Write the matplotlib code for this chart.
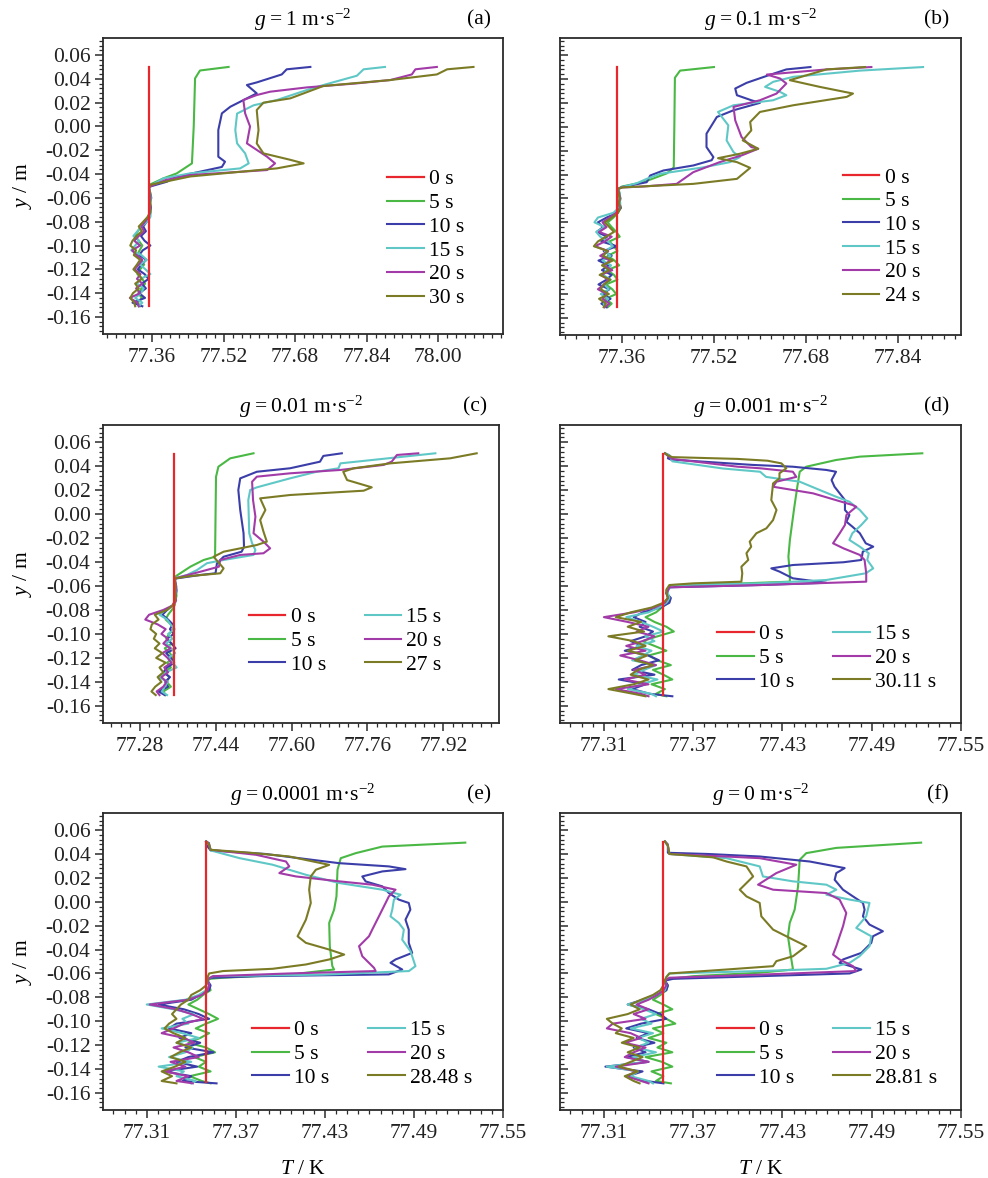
import matplotlib
matplotlib.use("Agg")
import matplotlib.pyplot as plt
from matplotlib.ticker import AutoMinorLocator, FormatStrFormatter
import numpy as np

plt.rcParams['font.family'] = ['Liberation Serif', 'DejaVu Serif']
plt.rcParams['mathtext.fontset'] = 'custom'
plt.rcParams['mathtext.rm'] = 'Liberation Serif'
plt.rcParams['mathtext.it'] = 'Liberation Serif:italic'
plt.rcParams['mathtext.bf'] = 'Liberation Serif:bold'
plt.rcParams['axes.unicode_minus'] = True

# ---------------- data ----------------
colors = ['#e8262d', '#4ab844', '#3b3ea8', '#5fc8c6', '#a23ba8', '#7c7b25']

titles = ['1', '0.1', '0.01', '0.001', '0.0001', '0']
tags = ['(a)', '(b)', '(c)', '(d)', '(e)', '(f)']
a_labels = ['0 s', '5 s', '10 s', '15 s', '20 s', '30 s']
b_labels = ['0 s', '5 s', '10 s', '15 s', '20 s', '24 s']
c_labels = ['0 s', '5 s', '10 s', '15 s', '20 s', '27 s']
d_labels = ['0 s', '5 s', '10 s', '15 s', '20 s', '30.11 s']
e_labels = ['0 s', '5 s', '10 s', '15 s', '20 s', '28.48 s']
f_labels = ['0 s', '5 s', '10 s', '15 s', '20 s', '28.81 s']

xticks_abc = {'a': [77.36, 77.52, 77.68, 77.84, 78.00],
              'b': [77.36, 77.52, 77.68, 77.84],
              'c': [77.28, 77.44, 77.60, 77.76, 77.92]}
xticks_def = [77.31, 77.37, 77.43, 77.49, 77.55]
yticks = [0.06, 0.04, 0.02, 0.00, -0.02, -0.04, -0.06, -0.08, -0.10, -0.12, -0.14, -0.16]

red_y = [0.050, -0.151]
T0_abc = 77.352
T0_def = 77.350

# noise-region y grids
grid_ab = [-0.052, -0.056, -0.060, -0.064, -0.068, -0.072, -0.076, -0.080, -0.084, -0.088,
           -0.092, -0.096, -0.100, -0.104, -0.108, -0.112, -0.116, -0.120, -0.124, -0.128,
           -0.132, -0.136, -0.140, -0.144, -0.148, -0.151]
grid_c = grid_ab[1:]
grid_def = [-0.066, -0.070, -0.074, -0.078, -0.082, -0.086, -0.090, -0.094, -0.098, -0.102,
            -0.106, -0.110, -0.114, -0.118, -0.122, -0.126, -0.130, -0.134, -0.138, -0.142,
            -0.146, -0.150, -0.152]

# ---- panel (a) g = 1 ----
a5_T = [77.531, 77.467, 77.456, 77.453, 77.449, 77.415, 77.385, 77.354]
a5_y = [0.050, 0.047, 0.0404, 0.000, -0.031, -0.0394, -0.0436, -0.049]
a10_T = [77.714, 77.661, 77.650, 77.594, 77.572, 77.594, 77.535, 77.516, 77.508, 77.508, 77.523, 77.516, 77.415, 77.393, 77.354]
a10_y = [0.050, 0.048, 0.0437, 0.037, 0.0348, 0.0278, 0.0166, 0.011, -0.003, -0.0254, -0.0296, -0.034, -0.0422, -0.0464, -0.0506]
a15_T = [77.881, 77.833, 77.818, 77.743, 77.706, 77.639, 77.587, 77.550, 77.546, 77.550, 77.568, 77.576, 77.557, 77.445, 77.385, 77.354]
a15_y = [0.050, 0.048, 0.0426, 0.0348, 0.0306, 0.0222, 0.0178, 0.0108, -0.003, -0.0142, -0.0226, -0.031, -0.0352, -0.0394, -0.0436, -0.0506]
a20_T = [77.997, 77.949, 77.941, 77.893, 77.818, 77.706, 77.624, 77.594, 77.564, 77.568, 77.579, 77.572, 77.617, 77.635, 77.617, 77.445, 77.390, 77.354]
a20_y = [0.050, 0.048, 0.0437, 0.039, 0.0362, 0.0328, 0.0292, 0.0264, 0.0222, 0.011, 0.000, -0.0142, -0.0254, -0.031, -0.0366, -0.0408, -0.045, -0.0506]
a30_T = [78.079, 78.020, 77.997, 77.893, 77.743, 77.699, 77.669, 77.609, 77.594, 77.598, 77.594, 77.609, 77.669, 77.699, 77.639, 77.445, 77.356]
a30_y = [0.050, 0.048, 0.0437, 0.039, 0.034, 0.0278, 0.0236, 0.020, 0.0138, -0.003, -0.0142, -0.0226, -0.028, -0.031, -0.0352, -0.042, -0.049]
a5_n = [77.353, 77.355, 77.356, 77.354, 77.356, 77.355, 77.350, 77.342, 77.335, 77.328, 77.322, 77.330, 77.338, 77.332, 77.326, 77.335, 77.342, 77.333, 77.327, 77.338, 77.344, 77.336, 77.329, 77.337, 77.328, 77.333]
a10_n = [77.353, 77.356, 77.358, 77.355, 77.357, 77.356, 77.353, 77.348, 77.340, 77.346, 77.335, 77.343, 77.356, 77.339, 77.331, 77.347, 77.336, 77.328, 77.343, 77.352, 77.337, 77.346, 77.331, 77.344, 77.316, 77.338]
a15_n = [77.354, 77.355, 77.357, 77.356, 77.355, 77.357, 77.356, 77.349, 77.336, 77.327, 77.318, 77.331, 77.322, 77.313, 77.336, 77.348, 77.333, 77.345, 77.356, 77.334, 77.326, 77.341, 77.335, 77.322, 77.338, 77.330]
a20_n = [77.353, 77.354, 77.356, 77.355, 77.357, 77.355, 77.352, 77.344, 77.336, 77.342, 77.330, 77.320, 77.333, 77.315, 77.325, 77.338, 77.330, 77.321, 77.334, 77.326, 77.338, 77.324, 77.333, 77.310, 77.327, 77.330]
a30_n = [77.353, 77.355, 77.354, 77.356, 77.355, 77.356, 77.350, 77.340, 77.330, 77.337, 77.325, 77.316, 77.311, 77.324, 77.319, 77.333, 77.326, 77.318, 77.329, 77.337, 77.322, 77.330, 77.317, 77.311, 77.320, 77.322]

# ---- panel (b) g = 0.1 ----
b5_T = [77.520, 77.461, 77.452, 77.451, 77.450, 77.438, 77.397, 77.360]
b5_y = [0.050, 0.047, 0.041, 0.000, -0.034, -0.039, -0.0464, -0.050]
b10_T = [77.688, 77.646, 77.612, 77.577, 77.557, 77.560, 77.585, 77.600, 77.554, 77.525, 77.507, 77.507, 77.519, 77.516, 77.484, 77.432, 77.409, 77.403, 77.360]
b10_y = [0.050, 0.048, 0.0426, 0.0368, 0.032, 0.0264, 0.0222, 0.020, 0.0138, 0.0082, -0.0058, -0.017, -0.0254, -0.028, -0.0324, -0.0366, -0.0408, -0.0464, -0.0505]
b15_T = [77.884, 77.774, 77.658, 77.623, 77.609, 77.635, 77.646, 77.623, 77.554, 77.527, 77.536, 77.545, 77.542, 77.554, 77.565, 77.548, 77.501, 77.426, 77.403, 77.386, 77.360]
b15_y = [0.050, 0.047, 0.0418, 0.0376, 0.0334, 0.0292, 0.0264, 0.0222, 0.018, 0.0124, 0.0068, 0.0012, -0.0114, -0.0212, -0.0254, -0.0296, -0.034, -0.0394, -0.0436, -0.0472, -0.0505]
b20_T = [77.794, 77.716, 77.612, 77.635, 77.646, 77.629, 77.600, 77.554, 77.557, 77.568, 77.585, 77.597, 77.568, 77.530, 77.484, 77.455, 77.397, 77.360]
b20_y = [0.050, 0.048, 0.0437, 0.0404, 0.0362, 0.0278, 0.0222, 0.0166, 0.0054, -0.0086, -0.017, -0.0184, -0.024, -0.0296, -0.038, -0.0478, -0.0500, -0.0508]
b24_T = [77.783, 77.716, 77.652, 77.704, 77.762, 77.751, 77.658, 77.600, 77.583, 77.585, 77.570, 77.597, 77.565, 77.527, 77.560, 77.583, 77.560, 77.484, 77.360]
b24_y = [0.050, 0.048, 0.039, 0.0334, 0.0278, 0.025, 0.018, 0.0124, 0.004, -0.003, -0.0114, -0.0184, -0.0226, -0.0263, -0.0296, -0.0344, -0.0436, -0.0478, -0.0508]
b5_n = [77.353, 77.356, 77.357, 77.355, 77.354, 77.353, 77.345, 77.335, 77.342, 77.350, 77.356, 77.338, 77.346, 77.352, 77.335, 77.347, 77.355, 77.334, 77.346, 77.352, 77.332, 77.343, 77.350, 77.331, 77.342, 77.335]
b10_n = [77.353, 77.355, 77.357, 77.356, 77.358, 77.352, 77.333, 77.318, 77.327, 77.316, 77.334, 77.324, 77.351, 77.328, 77.342, 77.319, 77.337, 77.325, 77.342, 77.333, 77.319, 77.338, 77.326, 77.340, 77.324, 77.333]
b15_n = [77.354, 77.356, 77.355, 77.357, 77.354, 77.345, 77.318, 77.312, 77.330, 77.315, 77.322, 77.336, 77.344, 77.330, 77.340, 77.326, 77.341, 77.333, 77.327, 77.340, 77.329, 77.337, 77.323, 77.336, 77.328, 77.330]
b20_n = [77.353, 77.355, 77.356, 77.354, 77.356, 77.350, 77.338, 77.326, 77.333, 77.320, 77.342, 77.330, 77.313, 77.336, 77.322, 77.339, 77.328, 77.343, 77.323, 77.336, 77.329, 77.318, 77.334, 77.326, 77.338, 77.330]
b24_n = [77.353, 77.354, 77.356, 77.355, 77.357, 77.353, 77.342, 77.330, 77.338, 77.346, 77.332, 77.318, 77.311, 77.335, 77.327, 77.344, 77.325, 77.338, 77.321, 77.340, 77.328, 77.323, 77.337, 77.320, 77.332, 77.328]

# ---- panel (c) g = 0.01 ----
c5_T = [77.520, 77.471, 77.446, 77.441, 77.439, 77.415, 77.387, 77.355, 77.353]
c5_y = [0.0507, 0.0465, 0.0395, 0.031, -0.0356, -0.0383, -0.0439, -0.0522, -0.054]
c10_T = [77.706, 77.667, 77.660, 77.597, 77.527, 77.492, 77.488, 77.492, 77.499, 77.500, 77.495, 77.457, 77.443, 77.440, 77.408, 77.359, 77.353]
c10_y = [0.0507, 0.0485, 0.0437, 0.0382, 0.0353, 0.0298, 0.0201, 0.0034, -0.016, -0.0272, -0.0314, -0.0356, -0.041, -0.0494, -0.0508, -0.0536, -0.0545]
c15_T = [77.903, 77.703, 77.699, 77.653, 77.597, 77.527, 77.513, 77.509, 77.511, 77.517, 77.524, 77.520, 77.457, 77.422, 77.401, 77.380, 77.355]
c15_y = [0.0507, 0.0423, 0.0382, 0.0353, 0.0298, 0.0223, 0.0201, 0.0117, -0.016, -0.0244, -0.030, -0.0341, -0.0383, -0.041, -0.0467, -0.0508, -0.0536]
c20_T = [77.867, 77.822, 77.811, 77.794, 77.703, 77.597, 77.527, 77.517, 77.519, 77.524, 77.520, 77.541, 77.555, 77.541, 77.492, 77.450, 77.447, 77.408, 77.355]
c20_y = [0.0507, 0.0493, 0.0437, 0.041, 0.0368, 0.034, 0.0312, 0.027, 0.0117, -0.0022, -0.016, -0.023, -0.0286, -0.0327, -0.0341, -0.0383, -0.0439, -0.0481, -0.0536]
c27_T = [77.990, 77.934, 77.808, 77.731, 77.709, 77.717, 77.769, 77.752, 77.597, 77.534, 77.545, 77.534, 77.541, 77.548, 77.527, 77.457, 77.436, 77.457, 77.450, 77.387, 77.355]
c27_y = [0.0507, 0.0465, 0.0423, 0.0382, 0.0353, 0.0284, 0.0223, 0.0195, 0.0159, 0.0131, 0.0034, -0.005, -0.0147, -0.023, -0.0258, -0.0314, -0.0356, -0.0453, -0.0494, -0.0517, -0.0536]
c5_n = [77.355, 77.356, 77.357, 77.355, 77.356, 77.354, 77.348, 77.340, 77.335, 77.346, 77.352, 77.342, 77.336, 77.348, 77.333, 77.344, 77.350, 77.338, 77.346, 77.332, 77.343, 77.337, 77.346, 77.330, 77.335]
c10_n = [77.354, 77.357, 77.358, 77.356, 77.355, 77.350, 77.338, 77.328, 77.340, 77.350, 77.344, 77.352, 77.338, 77.347, 77.356, 77.336, 77.346, 77.353, 77.338, 77.330, 77.344, 77.334, 77.340, 77.320, 77.333]
c15_n = [77.355, 77.356, 77.357, 77.358, 77.356, 77.352, 77.334, 77.322, 77.338, 77.345, 77.354, 77.340, 77.349, 77.336, 77.347, 77.355, 77.341, 77.350, 77.358, 77.336, 77.320, 77.340, 77.333, 77.327, 77.338]
c20_n = [77.355, 77.357, 77.356, 77.355, 77.357, 77.351, 77.330, 77.300, 77.292, 77.318, 77.335, 77.326, 77.340, 77.330, 77.345, 77.328, 77.339, 77.347, 77.332, 77.340, 77.326, 77.337, 77.330, 77.316, 77.322]
c27_n = [77.354, 77.356, 77.355, 77.357, 77.355, 77.350, 77.338, 77.312, 77.320, 77.306, 77.303, 77.315, 77.310, 77.322, 77.312, 77.328, 77.315, 77.335, 77.322, 77.330, 77.318, 77.326, 77.313, 77.305, 77.314]

# ---- panel (d) g = 0.001 ----
d5_T = [77.524, 77.482, 77.466, 77.446, 77.4416, 77.440, 77.438, 77.435, 77.434, 77.435, 77.435, 77.4035, 77.370, 77.354, 77.352]
d5_y = [0.0507, 0.0479, 0.0451, 0.0395, 0.0353, 0.0228, 0.0061, -0.0216, -0.0356, -0.0494, -0.0564, -0.0578, -0.0592, -0.0606, -0.0640]
d10_T = [77.351, 77.354, 77.353, 77.355, 77.410, 77.437, 77.4595, 77.466, 77.463, 77.465, 77.472, 77.472, 77.475, 77.473, 77.477, 77.482, 77.486, 77.491, 77.484, 77.483, 77.471, 77.437, 77.4225, 77.428, 77.437, 77.4595, 77.415, 77.354, 77.353]
d10_y = [0.0507, 0.049, 0.0465, 0.0455, 0.041, 0.0395, 0.0368, 0.0353, 0.0284, 0.0228, 0.0117, 0.0034, -0.0008, -0.0064, -0.0105, -0.016, -0.0244, -0.0272, -0.0314, -0.0383, -0.0402, -0.0425, -0.0453, -0.048, -0.0536, -0.0573, -0.0592, -0.0611, -0.0640]
d15_T = [77.351, 77.354, 77.356, 77.390, 77.415, 77.419, 77.4416, 77.455, 77.466, 77.475, 77.482, 77.487, 77.483, 77.477, 77.475, 77.482, 77.488, 77.487, 77.491, 77.486, 77.4595, 77.415, 77.357, 77.353]
d15_y = [0.0507, 0.049, 0.044, 0.038, 0.0353, 0.031, 0.027, 0.0201, 0.0145, 0.0103, 0.0034, -0.0036, -0.0091, -0.016, -0.0216, -0.0272, -0.0327, -0.0383, -0.0453, -0.0494, -0.055, -0.0578, -0.0592, -0.0630]
d20_T = [77.351, 77.353, 77.356, 77.400, 77.415, 77.437, 77.4393, 77.426, 77.4237, 77.4505, 77.477, 77.4796, 77.473, 77.472, 77.4685, 77.464, 77.471, 77.482, 77.4852, 77.4863, 77.4863, 77.415, 77.354, 77.353]
d20_y = [0.0507, 0.0485, 0.046, 0.0395, 0.0382, 0.0353, 0.031, 0.027, 0.0228, 0.0173, 0.0076, 0.0061, -0.0008, -0.0091, -0.016, -0.0244, -0.0286, -0.0341, -0.0383, -0.0494, -0.0564, -0.0592, -0.0611, -0.0640]
d30_T = [77.351, 77.353, 77.356, 77.400, 77.420, 77.4293, 77.4326, 77.428, 77.428, 77.4237, 77.4225, 77.426, 77.4237, 77.4192, 77.4125, 77.408, 77.409, 77.4058, 77.407, 77.4024, 77.403, 77.4024, 77.370, 77.354, 77.352]
d30_y = [0.0507, 0.049, 0.0475, 0.046, 0.0445, 0.0423, 0.0382, 0.034, 0.0298, 0.0256, 0.0117, 0.0034, -0.005, -0.0119, -0.016, -0.023, -0.0272, -0.0327, -0.0383, -0.0439, -0.0494, -0.0564, -0.0578, -0.0592, -0.0630]
d5_n = [77.352, 77.354, 77.353, 77.349, 77.345, 77.338, 77.344, 77.352, 77.357, 77.346, 77.336, 77.344, 77.352, 77.340, 77.346, 77.355, 77.343, 77.350, 77.356, 77.342, 77.351, 77.345, 77.352]
d10_n = [77.352, 77.355, 77.354, 77.348, 77.336, 77.330, 77.338, 77.334, 77.343, 77.338, 77.328, 77.336, 77.324, 77.340, 77.347, 77.335, 77.329, 77.344, 77.320, 77.338, 77.329, 77.341, 77.356]
d15_n = [77.353, 77.354, 77.352, 77.347, 77.340, 77.325, 77.335, 77.343, 77.350, 77.338, 77.344, 77.332, 77.342, 77.336, 77.329, 77.345, 77.337, 77.330, 77.346, 77.335, 77.326, 77.342, 77.345]
d20_n = [77.352, 77.353, 77.351, 77.344, 77.330, 77.310, 77.326, 77.340, 77.332, 77.344, 77.336, 77.325, 77.338, 77.321, 77.334, 77.345, 77.330, 77.338, 77.324, 77.340, 77.318, 77.335, 77.340]
d30_n = [77.352, 77.353, 77.350, 77.342, 77.328, 77.318, 77.335, 77.326, 77.337, 77.313, 77.330, 77.338, 77.326, 77.339, 77.331, 77.343, 77.333, 77.328, 77.340, 77.330, 77.313, 77.330, 77.338]

# ---- panel (e) g = 0.0001 ----
e5_T = [77.5246, 77.4687, 77.4508, 77.4407, 77.4385, 77.4378, 77.4362, 77.4329, 77.4333, 77.435, 77.4362, 77.406, 77.3613, 77.3523]
e5_y = [0.0495, 0.0462, 0.0407, 0.0365, 0.0268, 0.0045, -0.0066, -0.0177, -0.0372, -0.0539, -0.0567, -0.061, -0.0636, -0.0645]
e10_T = [77.350, 77.352, 77.351, 77.353, 77.390, 77.4396, 77.4731, 77.4843, 77.4687, 77.4552, 77.4575, 77.4687, 77.4731, 77.4798, 77.4865, 77.4876, 77.4843, 77.4865, 77.4865, 77.4888, 77.4776, 77.4742, 77.4821, 77.4731, 77.3837, 77.3535, 77.352]
e10_y = [0.0505, 0.049, 0.0462, 0.043, 0.040, 0.0323, 0.0296, 0.0273, 0.0254, 0.0212, 0.017, 0.0129, 0.0073, 0.0018, -0.001, -0.0066, -0.015, -0.0233, -0.0344, -0.0428, -0.0483, -0.0511, -0.0567, -0.0608, -0.0623, -0.0636, -0.0645]
e15_T = [77.350, 77.352, 77.353, 77.3725, 77.3948, 77.4172, 77.4396, 77.4687, 77.481, 77.4765, 77.4754, 77.4742, 77.4798, 77.4832, 77.4821, 77.4877, 77.491, 77.4866, 77.4284, 77.3546, 77.352]
e15_y = [0.0505, 0.048, 0.043, 0.0365, 0.031, 0.0226, 0.0157, 0.0101, 0.0059, 0.0018, -0.0066, -0.0122, -0.0177, -0.0233, -0.0317, -0.0414, -0.0539, -0.058, -0.061, -0.0623, -0.064]
e20_T = [77.350, 77.352, 77.353, 77.3837, 77.4038, 77.406, 77.3993, 77.4105, 77.4396, 77.4619, 77.4776, 77.4731, 77.4709, 77.4664, 77.4619, 77.4597, 77.453, 77.4552, 77.4631, 77.4642, 77.406, 77.3546, 77.352]
e20_y = [0.0505, 0.048, 0.0435, 0.0393, 0.0337, 0.0296, 0.024, 0.0212, 0.0171, 0.0143, 0.0101, 0.0045, -0.001, -0.0122, -0.0233, -0.0289, -0.0372, -0.0456, -0.0553, -0.058, -0.060, -0.0623, -0.064]
e28_T = [77.350, 77.352, 77.353, 77.380, 77.406, 77.4329, 77.4239, 77.4205, 77.4194, 77.4205, 77.4172, 77.4116, 77.4172, 77.4329, 77.443, 77.4329, 77.4172, 77.3948, 77.3613, 77.352, 77.351]
e28_y = [0.0505, 0.048, 0.0435, 0.041, 0.0379, 0.0309, 0.0268, 0.0212, 0.0101, -0.001, -0.015, -0.0289, -0.0344, -0.040, -0.0442, -0.0483, -0.0525, -0.0561, -0.058, -0.060, -0.063]
e5_n = [77.351, 77.352, 77.353, 77.348, 77.344, 77.338, 77.345, 77.352, 77.358, 77.350, 77.343, 77.352, 77.346, 77.338, 77.350, 77.356, 77.342, 77.350, 77.345, 77.353, 77.339, 77.347, 77.353]
e10_n = [77.351, 77.353, 77.352, 77.346, 77.340, 77.318, 77.335, 77.345, 77.352, 77.330, 77.325, 77.340, 77.332, 77.346, 77.336, 77.355, 77.338, 77.330, 77.344, 77.322, 77.340, 77.334, 77.357]
e15_n = [77.351, 77.352, 77.350, 77.345, 77.336, 77.310, 77.328, 77.342, 77.334, 77.338, 77.320, 77.334, 77.345, 77.330, 77.341, 77.336, 77.325, 77.340, 77.318, 77.335, 77.330, 77.343, 77.340]
e20_n = [77.351, 77.352, 77.351, 77.347, 77.338, 77.312, 77.330, 77.340, 77.348, 77.335, 77.328, 77.320, 77.335, 77.342, 77.328, 77.338, 77.345, 77.326, 77.336, 77.322, 77.338, 77.330, 77.341]
e28_n = [77.351, 77.350, 77.346, 77.340, 77.338, 77.333, 77.330, 77.327, 77.330, 77.325, 77.322, 77.328, 77.336, 77.330, 77.340, 77.332, 77.326, 77.336, 77.329, 77.320, 77.327, 77.320, 77.330]

# ---- panel (f) g = 0 ----
f5_T = [77.5232, 77.4662, 77.446, 77.4416, 77.4405, 77.4382, 77.4349, 77.4337, 77.436, 77.4371, 77.4147, 77.370, 77.3543]
f5_y = [0.0495, 0.0451, 0.0407, 0.0351, 0.0129, -0.0066, -0.0177, -0.0289, -0.0483, -0.0567, -0.0594, -0.0623, -0.0645]
f10_T = [77.351, 77.353, 77.353, 77.380, 77.4147, 77.4483, 77.4718, 77.4662, 77.4651, 77.4707, 77.4774, 77.4841, 77.4852, 77.4841, 77.4885, 77.4975, 77.4908, 77.4897, 77.483, 77.4707, 77.4684, 77.483, 77.4752, 77.4147, 77.3566]
f10_y = [0.0505, 0.048, 0.041, 0.040, 0.0379, 0.0337, 0.0282, 0.024, 0.0184, 0.0101, 0.0045, -0.001, -0.0066, -0.0122, -0.0191, -0.0247, -0.0289, -0.0344, -0.0428, -0.0483, -0.0511, -0.0567, -0.060, -0.0623, -0.0645]
f15_T = [77.351, 77.353, 77.354, 77.3924, 77.4147, 77.4169, 77.437, 77.4595, 77.4662, 77.4595, 77.4752, 77.4885, 77.4863, 77.4796, 77.4897, 77.4885, 77.4818, 77.4752, 77.4595, 77.4147, 77.354, 77.352]
f15_y = [0.0505, 0.047, 0.040, 0.0365, 0.0296, 0.0212, 0.0171, 0.0143, 0.0101, 0.0059, 0.0018, -0.001, -0.0122, -0.0219, -0.0289, -0.0372, -0.0456, -0.0511, -0.0561, -0.058, -0.060, -0.063]
f20_T = [77.351, 77.353, 77.354, 77.390, 77.4147, 77.4393, 77.4259, 77.4136, 77.4237, 77.4595, 77.4684, 77.4729, 77.4707, 77.4684, 77.4662, 77.464, 77.4684, 77.4774, 77.4796, 77.4147, 77.354]
f20_y = [0.0505, 0.047, 0.040, 0.038, 0.0365, 0.031, 0.024, 0.0143, 0.0101, 0.0073, 0.0018, -0.0094, -0.0205, -0.0289, -0.0372, -0.0442, -0.0483, -0.0539, -0.058, -0.061, -0.0636]
f28_T = [77.351, 77.353, 77.354, 77.3834, 77.3924, 77.4058, 77.4103, 77.4013, 77.4058, 77.4147, 77.4158, 77.4237, 77.4371, 77.446, 77.4371, 77.4259, 77.4237, 77.3924, 77.354, 77.352]
f28_y = [0.0505, 0.047, 0.040, 0.0372, 0.0337, 0.0296, 0.0212, 0.0101, 0.0045, -0.001, -0.0122, -0.0233, -0.0317, -0.0372, -0.0456, -0.0497, -0.0539, -0.0567, -0.060, -0.063]
f5_n = [77.351, 77.353, 77.352, 77.348, 77.343, 77.350, 77.356, 77.345, 77.352, 77.358, 77.343, 77.350, 77.340, 77.352, 77.346, 77.356, 77.338, 77.349, 77.356, 77.342, 77.350, 77.345, 77.355]
f10_n = [77.351, 77.353, 77.352, 77.345, 77.336, 77.326, 77.340, 77.348, 77.352, 77.335, 77.325, 77.340, 77.332, 77.344, 77.330, 77.338, 77.325, 77.340, 77.311, 77.336, 77.326, 77.338, 77.350]
f15_n = [77.351, 77.352, 77.351, 77.346, 77.338, 77.326, 77.337, 77.345, 77.335, 77.342, 77.328, 77.343, 77.333, 77.340, 77.331, 77.345, 77.330, 77.338, 77.312, 77.333, 77.328, 77.340, 77.343]
f20_n = [77.351, 77.352, 77.350, 77.346, 77.340, 77.332, 77.340, 77.330, 77.338, 77.316, 77.312, 77.328, 77.335, 77.324, 77.338, 77.330, 77.324, 77.340, 77.318, 77.332, 77.325, 77.335, 77.340]
f28_n = [77.351, 77.350, 77.348, 77.343, 77.335, 77.328, 77.334, 77.326, 77.312, 77.316, 77.322, 77.318, 77.330, 77.322, 77.334, 77.326, 77.336, 77.328, 77.320, 77.333, 77.324, 77.330, 77.334]

# ---------------- assemble ----------------
panels = [
    dict(T0=T0_abc, grid=grid_ab, labels=a_labels, xlim=(77.250, 78.145), xt=xticks_abc['a'],
         curves=[(a5_T, a5_y, a5_n), (a10_T, a10_y, a10_n), (a15_T, a15_y, a15_n), (a20_T, a20_y, a20_n), (a30_T, a30_y, a30_n)]),
    dict(T0=T0_abc, grid=grid_ab, labels=b_labels, xlim=(77.252, 77.950), xt=xticks_abc['b'],
         curves=[(b5_T, b5_y, b5_n), (b10_T, b10_y, b10_n), (b15_T, b15_y, b15_n), (b20_T, b20_y, b20_n), (b24_T, b24_y, b24_n)]),
    dict(T0=T0_abc, grid=grid_c, labels=c_labels, xlim=(77.203, 78.037), xt=xticks_abc['c'],
         curves=[(c5_T, c5_y, c5_n), (c10_T, c10_y, c10_n), (c15_T, c15_y, c15_n), (c20_T, c20_y, c20_n), (c27_T, c27_y, c27_n)]),
    dict(T0=T0_def, grid=grid_def, labels=d_labels, xlim=(77.2805, 77.5490), xt=xticks_def,
         curves=[(d5_T, d5_y, d5_n), (d10_T, d10_y, d10_n), (d15_T, d15_y, d15_n), (d20_T, d20_y, d20_n), (d30_T, d30_y, d30_n)]),
    dict(T0=T0_def, grid=grid_def, labels=e_labels, xlim=(77.2805, 77.5490), xt=xticks_def,
         curves=[(e5_T, e5_y, e5_n), (e10_T, e10_y, e10_n), (e15_T, e15_y, e15_n), (e20_T, e20_y, e20_n), (e28_T, e28_y, e28_n)]),
    dict(T0=T0_def, grid=grid_def, labels=f_labels, xlim=(77.2805, 77.5490), xt=xticks_def,
         curves=[(f5_T, f5_y, f5_n), (f10_T, f10_y, f10_n), (f15_T, f15_y, f15_n), (f20_T, f20_y, f20_n), (f28_T, f28_y, f28_n)]),
]

# layout (figure fractions)
W, H = 988, 1178
boxes = [(103, 38, 400, 296), (560, 38, 401, 297),
         (103, 425, 396, 298), (560, 425, 401, 298),
         (103, 813, 400, 297), (560, 813, 401, 297)]
leg_anchor = [(0.710, 0.556), (0.705, 0.564), (0.3675, 0.388),
              (0.3925, 0.331), (0.3725, 0.302), (0.3925, 0.302)]

fig = plt.figure(figsize=(W / 100, H / 100), dpi=100)
FS = 15.5
for i, p in enumerate(panels):
    x0, y0, w, h = boxes[i]
    ax = fig.add_axes([x0 / W, 1 - (y0 + h) / H, w / W, h / H])
    lines = []
    ln, = ax.plot([p['T0'], p['T0']], red_y, color=colors[0], lw=1.6, zorder=5)
    lines.append(ln)
    for k, (Tu, yu, Tn) in enumerate(p['curves']):
        T = list(Tu) + list(Tn)
        y = list(yu) + list(p['grid'][:len(Tn)])
        ln, = ax.plot(T, y, color=colors[k + 1], lw=1.5, zorder=3)
        lines.append(ln)
    ax.set_xlim(*p['xlim'])
    ax.set_ylim(-0.1743, 0.0743)
    ax.set_xticks(p['xt'])
    ax.xaxis.set_major_formatter(FormatStrFormatter('%.2f'))
    ax.xaxis.set_minor_locator(AutoMinorLocator(8))
    ax.set_yticks(yticks)
    ax.yaxis.set_major_formatter(FormatStrFormatter('%.2f'))
    ax.yaxis.set_minor_locator(AutoMinorLocator(5))
    for s in ax.spines.values():
        s.set_color('#2b2b2b')
        s.set_linewidth(1.3)
    ax.tick_params(axis='x', which='both', direction='out', top=False, labelsize=FS, pad=4, colors='#2b2b2b', labelcolor='#222222')
    ax.tick_params(axis='x', which='major', length=6, width=1.1)
    ax.tick_params(axis='x', which='minor', length=3, width=0.9)
    left_col = (i % 2 == 0)
    ax.tick_params(axis='y', which='both', direction='out' if left_col else 'in', right=False,
                   labelleft=left_col, labelsize=FS, pad=3, colors='#2b2b2b', labelcolor='#222222')
    ax.tick_params(axis='y', which='major', length=6, width=1.1)
    ax.tick_params(axis='y', which='minor', length=3, width=0.9)
    if left_col:
        ax.set_ylabel('$y$ / m', fontsize=FS, labelpad=8)
    if i >= 4:
        ax.set_xlabel('$T$ / K', fontsize=FS, labelpad=12)
    ax.set_title('$g$\u2009=\u2009' + titles[i] + ' m\u00b7s$^{-2}$', fontsize=FS, pad=9)
    ax.text(0.97, 1.0 + 9 / h, tags[i], transform=ax.transAxes, ha='right', va='bottom', fontsize=FS)
    ncol = 1 if i < 2 else 2
    ax.legend(lines, p['labels'], loc='upper left', bbox_to_anchor=leg_anchor[i], frameon=False,
              fontsize=FS, ncol=ncol, handlelength=1.7, handletextpad=0.25, labelspacing=0.17,
              columnspacing=1.8, borderpad=0, borderaxespad=0)

fig.savefig('out.png', dpi=100, facecolor='white')
